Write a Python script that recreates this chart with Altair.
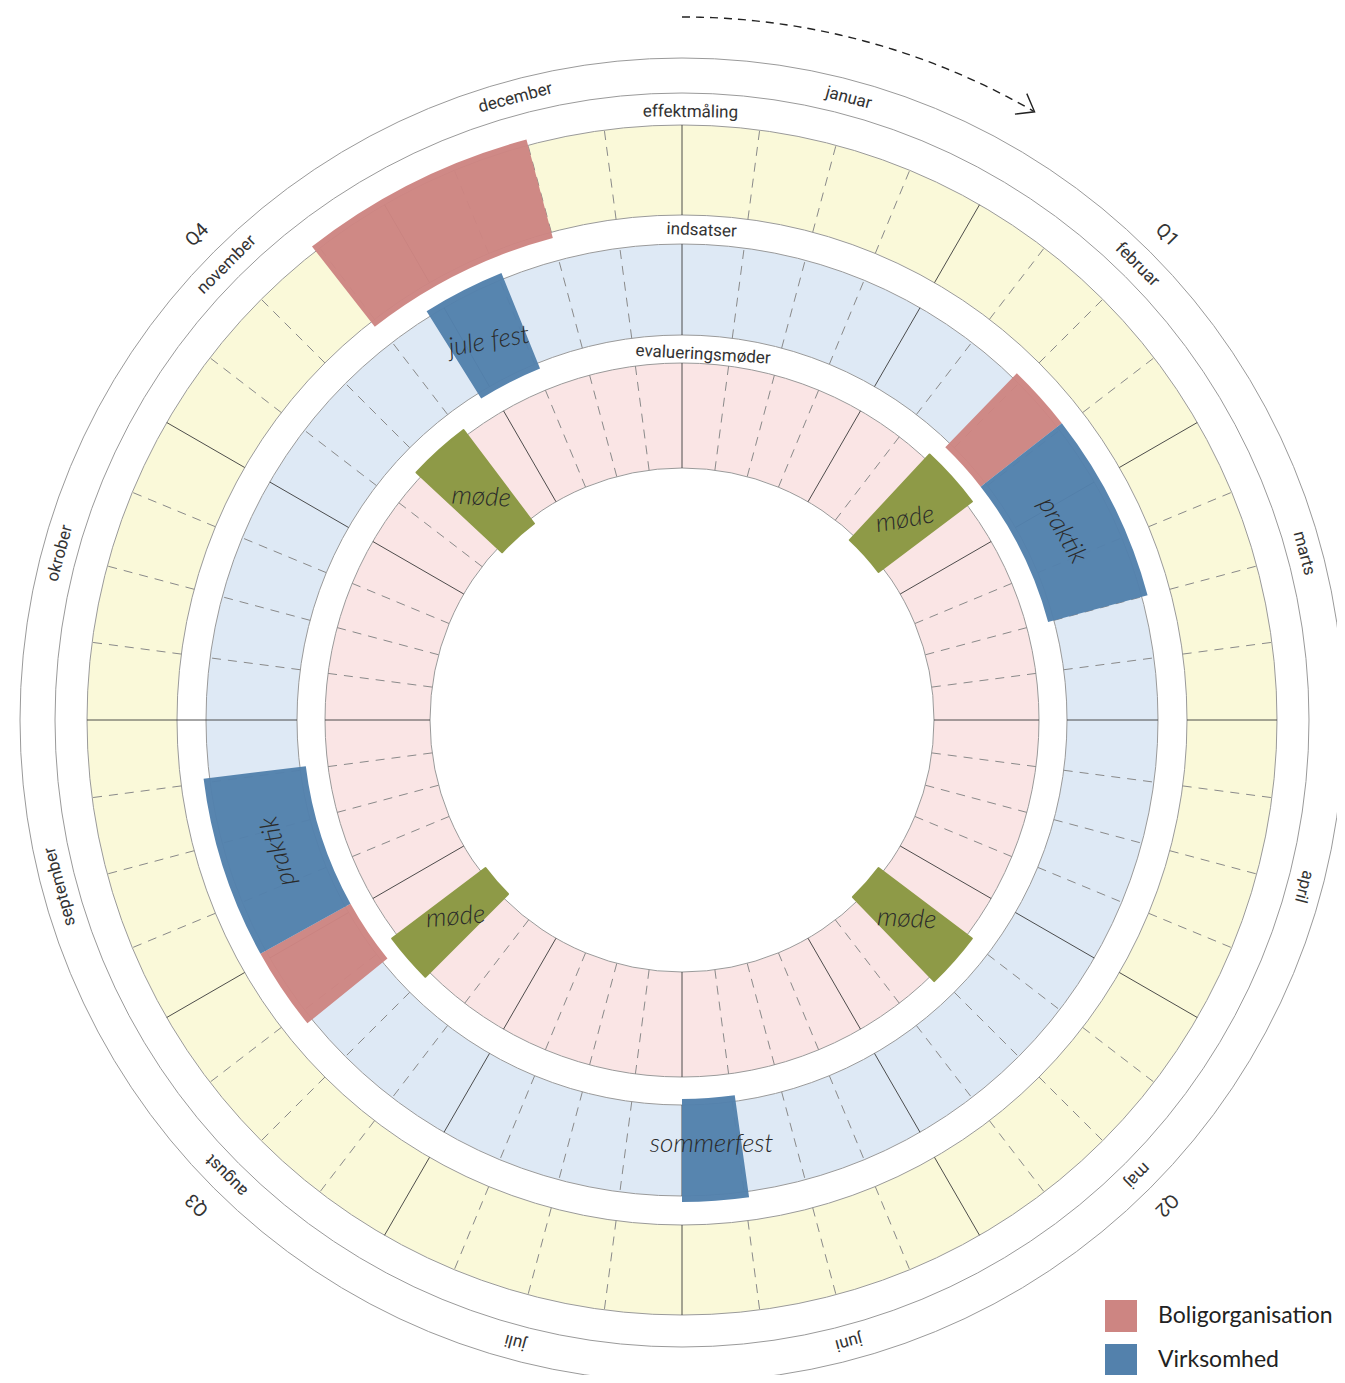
import math
import altair as alt
import pandas as pd

# ---------------- data ----------------
months = ["januar", "februar", "marts", "april", "maj", "juni", "juli",
          "august", "september", "okrober", "november", "december"]
quarters = ["Q1", "Q2", "Q3", "Q4"]
ring_names = ["effektmåling", "indsatser", "evalueringsmøder"]
legend_cats = ["Boligorganisation", "Virksomhed"]

# events: ring, start / end position on the year wheel (degrees, clockwise from 1 Jan)
ev_ring = ["effektmåling", "indsatser", "indsatser", "indsatser", "indsatser",
           "indsatser", "indsatser", "evalueringsmøder", "evalueringsmøder",
           "evalueringsmøder", "evalueringsmøder"]
ev_start = [322, 328, 44, 52, 231, 241, 172, 313, 43, 127, 225]
ev_end = [345, 338, 52, 75, 241, 263, 180, 323, 53, 136, 233]
ev_cat = ["Boligorganisation", "Virksomhed", "Boligorganisation", "Virksomhed",
          "Boligorganisation", "Virksomhed", "Virksomhed", "møde", "møde", "møde", "møde"]
ev_label = ["", "jule fest", "", "praktik", "", "praktik", "sommerfest",
            "møde", "møde", "møde", "møde"]

# ---------------- layout / style ----------------
W, H = 1329, 1367
CX, CY = 674, 712
RING = {"effektmåling": (505, 595), "indsatser": (385, 476), "evalueringsmøder": (252, 357)}
RING_FILL = {"effektmåling": "#FAF9D9", "indsatser": "#DEE9F5", "evalueringsmøder": "#FAE5E5"}
TEXT_R = {"effektmåling": 550, "indsatser": 425, "evalueringsmøder": 300}
TITLE_POS = {"effektmåling": (0.8, 608), "indsatser": (2.3, 490), "evalueringsmøder": (3.3, 366)}
LABEL_ROT = [0, 350, 0, 60, 0, 254, 0, 3, 350, 3, 355]
OUTER_CIRCLES = [627, 662]
MONTH_R, Q_R = 644, 686
FONT = "Roboto"
HAND = "Lato"
TXT = "#333333"
EV_COLORS = ["#CD8582", "#5381AC"]

XS = alt.Scale(domain=[-CX, W - CX], nice=False, zero=False)
YS = alt.Scale(domain=[-(H - CY), CY], nice=False, zero=False)
TS = alt.Scale(domain=[0, 360], range=[0, 2 * math.pi])
CS = alt.Scale(domain=legend_cats, range=EV_COLORS)

one = pd.DataFrame({"k": [0]})
center = dict(x=alt.value(CX), y=alt.value(CY))

layers = []

# rings
for name, (ri, ro) in RING.items():
    layers.append(
        alt.Chart(one).mark_arc(theta=0, theta2=2 * math.pi, radius=ro, radius2=ri,
                                fill=RING_FILL[name], stroke="#9a9a9a", strokeWidth=1)
        .encode(**center)
    )
# thin outer circles
for r in OUTER_CIRCLES:
    layers.append(
        alt.Chart(one).mark_arc(theta=0, theta2=2 * math.pi, radius=r, radius2=0,
                                fillOpacity=0, stroke="#9a9a9a", strokeWidth=1)
        .encode(**center)
    )

# radial division lines
rows = []
for name, (ri, ro) in RING.items():
    for i in range(48):
        rows.append(dict(a=i * 7.5, r1=ri, r2=ro, kind="month" if i % 4 == 0 else "week"))
rows.append(dict(a=270, r1=476, r2=505, kind="month"))
lines = pd.DataFrame(rows)

line_base = (
    alt.Chart(lines)
    .transform_calculate(
        x="datum.r1*sin(datum.a*PI/180)", y="datum.r1*cos(datum.a*PI/180)",
        x2="datum.r2*sin(datum.a*PI/180)", y2="datum.r2*cos(datum.a*PI/180)")
    .encode(x=alt.X("x:Q", scale=XS, axis=None), y=alt.Y("y:Q", scale=YS, axis=None),
            x2="x2:Q", y2="y2:Q")
)
layers.append(line_base.transform_filter("datum.kind=='week'")
              .mark_rule(color="#8a8a8a", strokeWidth=1, strokeDash=[9, 7]))
layers.append(line_base.transform_filter("datum.kind=='month'")
              .mark_rule(color="#3a3a3a", strokeWidth=0.9))

# events
ev = pd.DataFrame(dict(ring=ev_ring, start=ev_start, end=ev_end, cat=ev_cat, label=ev_label))
ev["ri"] = [RING[r][0] - 6 for r in ev_ring]
ev["ro"] = [RING[r][1] + 6 for r in ev_ring]
ev["tr"] = [TEXT_R[r] for r in ev_ring]
ev["rot"] = LABEL_ROT
ev["mid"] = (ev["start"] + ev["end"]) / 2

arc_enc = dict(
    theta=alt.Theta("start:Q", scale=TS, stack=None),
    theta2="end:Q",
    radius=alt.Radius("ro:Q", scale=None),
    radius2="ri:Q",
    **center,
)
layers.append(
    alt.Chart(ev).transform_filter("datum.cat!='møde'")
    .mark_arc(opacity=0.97)
    .encode(
        color=alt.Color("cat:N", scale=CS,
                        legend=alt.Legend(title=None, orient="none", legendX=1097, legendY=1292,
                                          symbolType="square", symbolSize=1024, symbolStrokeWidth=0,
                                          symbolOpacity=1, labelFont="Lato", labelFontSize=23,
                                          labelColor="#222222", rowPadding=12, labelOffset=21,
                                          padding=0, labelLimit=400)),
        **arc_enc,
    )
)
layers.append(
    alt.Chart(ev).transform_filter("datum.cat=='møde'")
    .mark_arc(fill="#8E9A47", stroke="#8E9A47", strokeWidth=2, strokeJoin="round")
    .encode(**arc_enc)
)
layers.append(
    alt.Chart(ev).transform_filter("datum.label!=''")
    .transform_calculate(x="datum.tr*sin(datum.mid*PI/180)", y="datum.tr*cos(datum.mid*PI/180)")
    .mark_text(font=HAND, fontStyle="italic", fontWeight=300, fontSize=26, color="#2a2a2a",
               align="center", baseline="middle")
    .encode(x=alt.X("x:Q", scale=XS, axis=None), y=alt.Y("y:Q", scale=YS, axis=None),
            text="label:N", angle=alt.Angle("rot:Q", scale=None))
)

# month labels
mdf = pd.DataFrame(dict(name=months, a=[15 + 30 * i for i in range(12)]))
layers.append(
    alt.Chart(mdf)
    .transform_calculate(x=f"{MONTH_R}*sin(datum.a*PI/180)", y=f"{MONTH_R}*cos(datum.a*PI/180)")
    .mark_text(font=FONT, fontSize=17, color=TXT, align="center", baseline="middle")
    .encode(x=alt.X("x:Q", scale=XS, axis=None), y=alt.Y("y:Q", scale=YS, axis=None),
            text="name:N", angle=alt.Angle("a:Q", scale=None))
)
# quarter labels
qdf = pd.DataFrame(dict(name=quarters, a=[45 + 90 * i for i in range(4)]))
layers.append(
    alt.Chart(qdf)
    .transform_calculate(x=f"{Q_R}*sin(datum.a*PI/180)", y=f"{Q_R}*cos(datum.a*PI/180)")
    .mark_text(font=FONT, fontSize=19, color=TXT, align="center", baseline="middle")
    .encode(x=alt.X("x:Q", scale=XS, axis=None), y=alt.Y("y:Q", scale=YS, axis=None),
            text="name:N", angle=alt.Angle("a:Q", scale=None))
)
# ring titles
tdf = pd.DataFrame(dict(name=ring_names,
                        a=[TITLE_POS[n][0] for n in ring_names],
                        r=[TITLE_POS[n][1] for n in ring_names]))
layers.append(
    alt.Chart(tdf)
    .transform_calculate(x="datum.r*sin(datum.a*PI/180)", y="datum.r*cos(datum.a*PI/180)")
    .mark_text(font=FONT, fontSize=17, color=TXT, align="center", baseline="middle")
    .encode(x=alt.X("x:Q", scale=XS, axis=None), y=alt.Y("y:Q", scale=YS, axis=None),
            text="name:N", angle=alt.Angle("a:Q", scale=None))
)

# direction arrow
ARROW_R = 703
layers.append(
    alt.Chart(alt.sequence(0, 30.01, 0.5, as_="a"))
    .transform_calculate(x=f"{ARROW_R}*sin(datum.a*PI/180)", y=f"{ARROW_R}*cos(datum.a*PI/180)")
    .mark_line(color="#222222", strokeWidth=1.4, strokeDash=[8, 6])
    .encode(x=alt.X("x:Q", scale=XS, axis=None), y=alt.Y("y:Q", scale=YS, axis=None),
            order="a:Q")
)
layers.append(
    alt.Chart(pd.DataFrame({"a": [30.1]}))
    .transform_calculate(x=f"{ARROW_R}*sin(datum.a*PI/180)", y=f"{ARROW_R}*cos(datum.a*PI/180)")
    .mark_point(shape="M-1,-0.75L0,0L-1,0.75", filled=False, size=1000, angle=30,
                color="#222222", strokeWidth=1.4, opacity=1)
    .encode(x=alt.X("x:Q", scale=XS, axis=None), y=alt.Y("y:Q", scale=YS, axis=None))
)

chart = (
    alt.layer(*layers)
    .properties(width=W, height=H, padding=0, autosize=alt.AutoSizeParams(type="none"))
    .configure_view(stroke=None)
)
chart.save("out.html", embed_options={"renderer": "svg", "actions": False})
